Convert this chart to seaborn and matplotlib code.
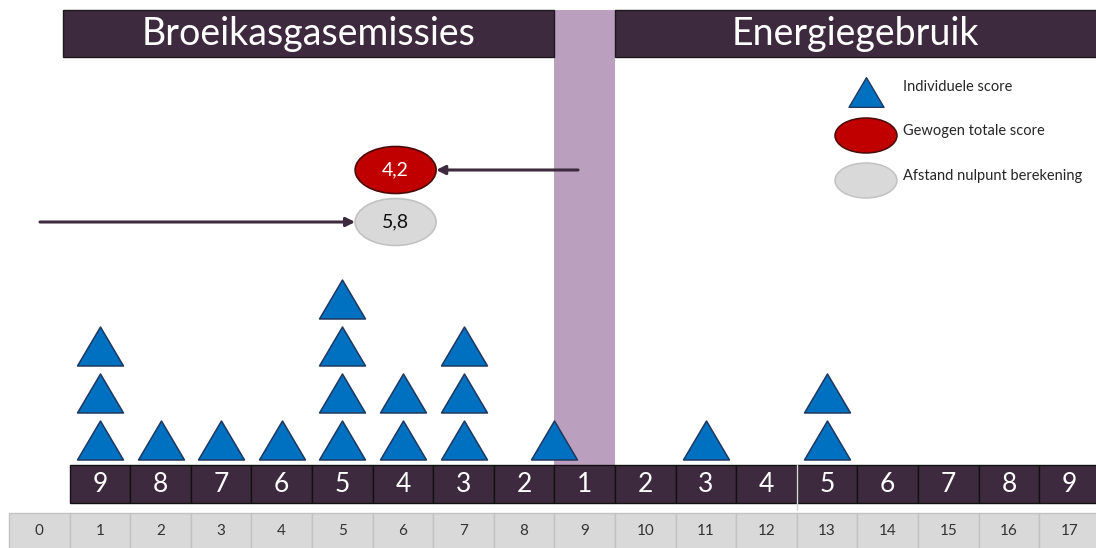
import matplotlib.pyplot as plt
import matplotlib.patches as mpatches
from matplotlib.path import Path
import seaborn as sns
import pandas as pd

# onderste schaal (0..17) en de scores erboven
scale_ticks = list(range(18))
score_labels = [9, 8, 7, 6, 5, 4, 3, 2, 1, 2, 3, 4, 5, 6, 7, 8, 9]

# individuele scores: kolom op de schaal en aantal gestapelde driehoeken
tri_cols = [1, 2, 3, 4, 5, 6, 7, 8.5, 11, 13]
tri_counts = [3, 1, 1, 1, 4, 2, 3, 1, 1, 2]

total_score = 4.2
zero_distance = 5.8

titles = ["Broeikasgasemissies", "Energiegebruik"]
legend_labels = ["Individuele score", "Gewogen totale score", "Afstand nulpunt berekening"]

DARK = "#3E2A3E"
BAND = "#BB9FBE"
BLUE = "#0070C0"
BLUE_EDGE = "#1F3860"
RED = "#C00000"
RED_EDGE = "#4A0A0A"
GRAY = "#D9D9D9"
GRAY_EDGE = "#C2C2C2"

sns.set_theme(style="white")
plt.rcParams["font.family"] = ["Lato", "DejaVu Sans"]

CELL = 60.6   # pixels per schaaleenheid
X0 = 9        # pixel van schaalwaarde 0


def px(x):
    return (x - X0) / CELL


tri_marker = Path([(0, 0.5), (-0.59, -0.5), (0.59, -0.5), (0, 0.5)],
                  [Path.MOVETO, Path.LINETO, Path.LINETO, Path.CLOSEPOLY])

fig = plt.figure(figsize=(10.96, 5.48), dpi=100)
ax = fig.add_axes([0, 0, 1, 1])
ax.set_xlim(px(0), px(1096))
ax.set_ylim(548, 0)
ax.axis("off")

# titelbalken
ax.add_patch(mpatches.Rectangle((px(63), 10), 9 - px(63), 47, fc=DARK, ec="#1a1a1a", lw=1, zorder=2))
ax.add_patch(mpatches.Rectangle((10, 10), 8.2, 47, fc=DARK, ec="#1a1a1a", lw=1, zorder=2))
ax.text((px(63) + 9) / 2, 34, titles[0], color="white", fontsize=27,
        ha="center", va="center", zorder=3)
ax.text((10 + px(1096)) / 2, 34, titles[1], color="white", fontsize=27,
        ha="center", va="center", zorder=3)

# paarse band bij score 1
ax.add_patch(mpatches.Rectangle((9, 10), 1, 455, fc=BAND, ec="none", zorder=1))

# schaal onderaan
for i, t in enumerate(scale_ticks):
    ax.add_patch(mpatches.Rectangle((i, 513), 1, 40, fc=GRAY, ec=GRAY_EDGE, lw=1, zorder=2))
    ax.text(i + 0.5, 531, str(t), fontsize=11, color="#333333",
            ha="center", va="center", zorder=3)

# scores
for i, s in enumerate(score_labels):
    ax.add_patch(mpatches.Rectangle((i + 1, 465), 1, 38, fc=DARK, ec="#111111", lw=1, zorder=2))
    ax.text(i + 1.5, 484, str(s), fontsize=19, color="white",
            ha="center", va="center", zorder=3)
ax.plot([13, 13], [464, 510], color="#d8d8d8", lw=1, zorder=3)

# driehoeken
rows = []
for c, n in zip(tri_cols, tri_counts):
    for k in range(n):
        rows.append({"x": c + 0.5, "y": 439.5 - 47 * k})
df = pd.DataFrame(rows)
sns.scatterplot(data=df, x="x", y="y", marker=tri_marker, s=1096, color=BLUE,
                edgecolor=BLUE_EDGE, linewidth=1.1, ax=ax, zorder=4)

# ellipsen met scores
ell_x = zero_distance + 0.58
ew, eh = 81 / CELL, 47
ax.add_patch(mpatches.Ellipse((ell_x, 170), ew, eh, fc=RED, ec=RED_EDGE, lw=1.2, zorder=4))
ax.text(ell_x, 170, f"{total_score:.1f}".replace(".", ","), color="white", fontsize=14,
        ha="center", va="center", zorder=5)
ax.add_patch(mpatches.Ellipse((ell_x, 222), ew, eh, fc=GRAY, ec=GRAY_EDGE, lw=1.2, zorder=4))
ax.text(ell_x, 222, f"{zero_distance:.1f}".replace(".", ","), color="#111111", fontsize=14,
        ha="center", va="center", zorder=5)

arrow = dict(arrowstyle="-|>", color=DARK, lw=2.2, mutation_scale=13, shrinkA=0, shrinkB=0)
ax.annotate("", xy=(ell_x + ew / 2, 170), xytext=(px(578), 170), arrowprops=arrow, zorder=3)
ax.annotate("", xy=(ell_x - ew / 2, 222), xytext=(px(40), 222), arrowprops=arrow, zorder=3)

# legenda
lx = px(866)
ax.scatter([lx], [91.5], marker=tri_marker, s=25.2 ** 2, color=BLUE, edgecolor=BLUE_EDGE,
           linewidth=1.0, zorder=4)
ax.add_patch(mpatches.Ellipse((lx, 135.5), 62 / CELL, 35, fc=RED, ec=RED_EDGE, lw=1.1, zorder=4))
ax.add_patch(mpatches.Ellipse((lx, 180.5), 62 / CELL, 35, fc=GRAY, ec=GRAY_EDGE, lw=1.1, zorder=4))
for yy, lab in zip([87, 131, 176], legend_labels):
    ax.text(px(903), yy, lab, fontsize=10.5, color="#262626",
            ha="left", va="center", zorder=5)

fig.savefig("out.png", dpi=100)
